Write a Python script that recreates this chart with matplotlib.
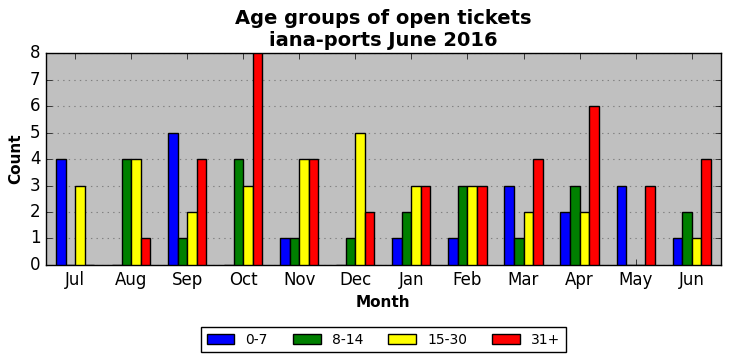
import numpy as np
import matplotlib
matplotlib.use('Agg')
import matplotlib.pyplot as plt

plt.style.use('classic')

months = ['Jul', 'Aug', 'Sep', 'Oct', 'Nov', 'Dec', 'Jan', 'Feb', 'Mar', 'Apr', 'May', 'Jun']
labels = ['0-7', '8-14', '15-30', '31+']
colors = ['blue', 'green', 'yellow', 'red']

age_0_7 = [4, 0, 5, 0, 1, 0, 1, 1, 3, 2, 3, 1]
age_8_14 = [0, 4, 1, 4, 1, 1, 2, 3, 1, 3, 0, 2]
age_15_30 = [3, 4, 2, 3, 4, 5, 3, 3, 2, 2, 0, 1]
age_31p = [0, 1, 4, 8, 4, 2, 3, 3, 4, 6, 3, 4]
series = [age_0_7, age_8_14, age_15_30, age_31p]

fig = plt.figure(figsize=(7.31, 3.61), facecolor='white')
ax = fig.add_subplot(111)
fig.subplots_adjust(left=0.063, right=0.986, top=0.853, bottom=0.266)

x = np.arange(len(months))
w = 0.17
for i in range(4):
    ax.bar(x + (i - 2) * w, series[i], w, align='edge', color=colors[i],
           edgecolor='black', linewidth=1, label=labels[i], zorder=3)

ax.set_facecolor('#c0c0c0')
ax.set_xlim(-0.52, 11.52)
ax.set_ylim(0, 8)
ax.set_xticks(x)
ax.set_xticklabels(months, fontsize=12)
ax.tick_params(axis='y', labelsize=12)
ax.yaxis.grid(True, linestyle=':', color='gray', linewidth=0.8, zorder=0)
ax.xaxis.grid(False)
ax.set_axisbelow(True)

ax.set_title('Age groups of open tickets\niana-ports June 2016', fontsize=14,
             fontweight='bold', y=1.0)
ax.set_xlabel('Month', fontsize=11, fontweight='bold')
ax.set_ylabel('Count', fontsize=11, fontweight='bold')

ax.legend(loc='upper center', bbox_to_anchor=(0.5, -0.26), ncol=4,
          fontsize=10, frameon=True, fancybox=False, handlelength=2,
          columnspacing=1.8)

fig.savefig('out.png', dpi=100, facecolor='white')
